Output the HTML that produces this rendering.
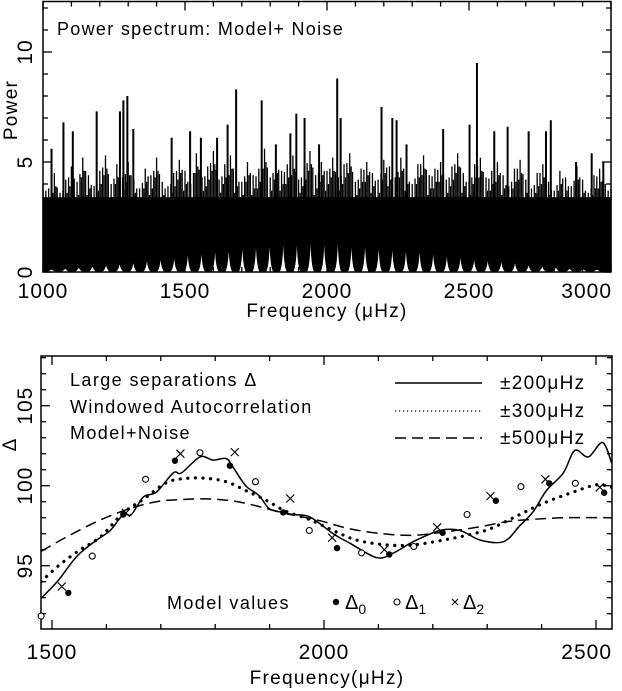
<!DOCTYPE html>
<html><head><meta charset="utf-8"><style>
html,body{margin:0;padding:0;background:#fff;}
svg{display:block;font-family:"Liberation Sans",sans-serif;}
</style></head><body>
<svg id="c" width="622" height="691" viewBox="0 0 622 691" xmlns="http://www.w3.org/2000/svg"></svg>
<script>
// ---- Top panel data ----
const modeFreqs=[1030,1078,1126,1174,1222,1270,1318,1366,1414,1462,1510,1558,1606,1654,1702,1750,1798,1846,1894,1942,1990,2038,2086,2134,2182,2230,2278,2326,2374,2422,2470,2518,2566,2614,2662,2710,2758,2806,2854,2902,2950];
const modeHeights=[0.1,0.15,0.2,0.25,0.3,0.35,0.4,0.5,0.55,0.6,0.75,0.8,0.9,0.95,1.05,1.1,1.15,1.2,1.2,1.25,1.2,1.25,1.1,1.15,1.05,1.0,0.95,0.9,0.8,0.7,0.65,0.55,0.5,0.45,0.4,0.3,0.25,0.2,0.15,0.12,0.1];
const spikeFreqs=[1030,1072,1105,1189,1271,1283,1297,1318,1453,1518,1556,1613,1650,1680,1770,1820,1871,1892,1921,1972,2036,2048,2192,2230,2245,2280,2409,2502,2528,2589,2636,2710,2771,2788,2877,2932,2973];
const spikePowers=[5.6,6.8,6.4,7.3,7.3,7.8,8.0,6.5,6.1,6.4,6.1,6.1,6.7,8.3,7.8,5.8,6.3,7.2,7.0,5.8,8.8,7.0,7.5,7.0,6.9,5.8,6.5,6.7,9.5,6.4,6.6,6.4,6.4,6.9,5.0,5.4,5.0];
const noiseLevels=[4.0,3.8,4.5,3.6,4.2,4.8,4.1,5.2,4.4,3.9,4.6,5.3,4.0,4.9,4.3,5.0,4.2,3.8,4.7,4.4,5.2,4.1,3.9,4.5,5.1,4.6,4.0,5.4,4.3,4.8,5.5,4.2,4.9,5.3,4.5,4.1,5.0,4.4,4.7,5.6,4.3,5.1,4.6,4.9,5.3,4.2,4.8,5.5,4.4,5.0,4.6,5.2,4.3,4.9,5.4,4.1,4.7,5.0,4.5,4.2,5.1,4.8,4.3,5.2,4.6,4.0,4.9,5.3,4.4,4.7,5.0,4.2,4.8,5.4,4.5,4.1,4.9,5.2,4.3,4.6,5.0,4.4,3.9,4.7,5.1,4.2,3.8,4.5,4.9,4.1,3.7,4.6,4.3,3.9,4.8,4.2,3.6,4.4,4.7,4.0,3.8];
const topXTicks=[1000,1500,2000,2500,3000];
const topYTicks=[0,5,10];
// ---- Bottom panel data ----
const s200F=[1480,1512,1546,1582,1607,1631,1646,1668,1692,1723,1738,1772,1796,1820,1832,1856,1880,1898,1914,1943,1974,2017,2048,2097,2128,2164,2213,2250,2287,2330,2360,2385,2409,2440,2461,2486,2512,2529];
const s200V=[92.96,94.1,95.6,96.6,97.2,98.2,98.2,99.3,99.6,100.8,100.8,101.8,101.6,101.7,101.2,100.0,99.4,98.6,98.4,98.2,98.05,97.0,96.4,95.5,95.8,96.5,97.2,97.2,96.6,96.5,97.5,98.4,99.7,100.8,102.2,101.8,102.7,101.4];
const s300F=[1480,1512,1552,1589,1631,1668,1711,1748,1784,1820,1856,1893,1930,1972,2017,2060,2115,2164,2219,2262,2305,2354,2403,2458,2501,2529];
const s300V=[94.0,95.0,96.0,96.8,98.3,99.15,100.2,100.46,100.46,100.25,99.7,99.1,98.4,97.9,97.2,96.6,96.3,96.3,96.6,96.9,97.3,98.1,98.9,99.6,100.05,99.9];
const s500F=[1480,1527,1582,1637,1692,1748,1803,1856,1924,1987,2048,2109,2164,2219,2281,2336,2385,2446,2529];
const s500V=[95.9,96.8,97.75,98.5,99.0,99.15,99.15,98.9,98.3,97.86,97.3,97.0,96.9,97.1,97.4,97.75,97.9,98.0,98.0];
const d0F=[1530,1631,1726,1827,1925,2024,2120,2218,2316,2414,2515];
const d0V=[93.3,98.2,101.56,101.25,98.33,96.1,95.7,97.06,99.06,100.15,99.56];
const d1F=[1480,1574,1672,1772,1874,1973,2069,2165,2263,2362,2462];
const d1V=[91.85,95.6,100.4,102.06,100.25,97.2,95.8,96.2,98.2,99.94,100.15];
const d2F=[1518,1636,1736,1836,1938,2015,2111,2208,2306,2407,2507];
const d2V=[93.7,98.3,102.0,102.1,99.2,96.75,96.0,97.4,99.35,100.4,99.9];
const botXTicks=[1500,2000,2500];
const botYTicks=[95,100,105];

const NS='http://www.w3.org/2000/svg';
const svg=document.getElementById('c');
function mk(tag,attrs,parent){const e=document.createElementNS(NS,tag);for(const k in attrs)e.setAttribute(k,attrs[k]);(parent||svg).appendChild(e);return e;}

// ===== TOP =====
const T={x0:43,x1:611,y0:272,y1:1.5};
const tx=f=>T.x0+(f-1000)*(T.x1-T.x0)/2000;
const ty=p=>T.y0-p*22;
const gTop=mk('g',{});


const base=mk('rect',{x:T.x0,y:ty(3.4),width:T.x1-T.x0,height:T.y0-ty(3.4),fill:'#000'},gTop);


noiseLevels.forEach((v,i)=>{const f=1000+i*20;
 const nxt=i<noiseLevels.length-1?noiseLevels[i+1]:v;
 [[0,v],[5,v-0.6],[10,(v+nxt)/2-0.2],[15,nxt-0.9]].forEach(([df,h])=>{
  if(f+df>3000)return;
  const l=mk('line',{x1:tx(f+df),x2:tx(f+df),y1:T.y0,y2:ty(h),stroke:'#000','stroke-width':1.3},gTop);
  
  
 });
});
spikeFreqs.forEach((f,i)=>{const l=mk('line',{x1:tx(f),x2:tx(f),y1:T.y0,y2:ty(spikePowers[i]),stroke:'#000','stroke-width':2},gTop);
 
 });
modeFreqs.forEach((f,i)=>{const x=tx(f),h=modeHeights[i];
 const p=mk('path',{d:`M${x-4},${T.y0} Q${x-1},${T.y0-2} ${x},${ty(h)} Q${x+1},${T.y0-2} ${x+4},${T.y0} Z`,fill:'#fff'},gTop);
 
 });
const tt=mk('text',{x:57,y:35,'font-size':18,'letter-spacing':1.3},gTop);tt.textContent='Power spectrum: Model+ Noise';


mk('rect',{x:T.x0,y:T.y1,width:T.x1-T.x0,height:T.y0-T.y1,fill:'none',stroke:'#000','stroke-width':1.5},gTop);
for(let f=1000;f<=3000;f+=100){const L=f%500===0?9:5;
 mk('line',{x1:tx(f),x2:tx(f),y1:T.y0,y2:T.y0-L,stroke:'#000','stroke-width':1.3},gTop);
 mk('line',{x1:tx(f),x2:tx(f),y1:T.y1,y2:T.y1+L,stroke:'#000','stroke-width':1.3},gTop);}
for(let p=0;p<=12;p++){const L=p%5===0?9:5;
 mk('line',{x1:T.x0,x2:T.x0+L,y1:ty(p),y2:ty(p),stroke:'#000','stroke-width':1.3},gTop);
 mk('line',{x1:T.x1,x2:T.x1-L,y1:ty(p),y2:ty(p),stroke:'#000','stroke-width':1.3},gTop);}
topXTicks.forEach((v,i)=>{const last=i===topXTicks.length-1;
 const t=mk('text',{x:last?612:tx(v),y:298,'font-size':21,'letter-spacing':1,'text-anchor':last?'end':'middle'},gTop);t.textContent=v;
 
 });
topYTicks.forEach(v=>{const t=mk('text',{transform:`translate(32,${ty(v)}) rotate(-90)`,'font-size':21,'letter-spacing':1,'text-anchor':'middle'},gTop);t.textContent=v;
 
 });
const xl=mk('text',{x:327,y:317,'font-size':19,'letter-spacing':1.3,'text-anchor':'middle'},gTop);xl.textContent='Frequency (μHz)';


const yl=mk('text',{transform:'translate(17,110) rotate(-90)','font-size':19,'letter-spacing':1.3,'text-anchor':'middle'},gTop);yl.textContent='Power';



// ===== BOTTOM =====
const B={x0:41,x1:612,y0:629,y1:356};
const bx=f=>52+(f-1500)*0.544;
const by=v=>485.7-(v-100)*16;
const gB=mk('g',{});


mk('rect',{x:B.x0,y:B.y1,width:B.x1-B.x0,height:B.y0-B.y1,fill:'none',stroke:'#000','stroke-width':1.5},gB);
for(let f=1500;f<=2500;f+=100){const L=f%500===0?9:5;
 mk('line',{x1:bx(f),x2:bx(f),y1:B.y0,y2:B.y0-L,stroke:'#000','stroke-width':1.3},gB);
 mk('line',{x1:bx(f),x2:bx(f),y1:B.y1,y2:B.y1+L,stroke:'#000','stroke-width':1.3},gB);}
for(let v=92;v<=108;v++){const L=v%5===0?9:5;
 mk('line',{x1:B.x0,x2:B.x0+L,y1:by(v),y2:by(v),stroke:'#000','stroke-width':1.3},gB);
 mk('line',{x1:B.x1,x2:B.x1-L,y1:by(v),y2:by(v),stroke:'#000','stroke-width':1.3},gB);}
botXTicks.forEach((v,i)=>{const last=i===botXTicks.length-1;
 const t=mk('text',{x:last?612:bx(v),y:659,'font-size':21,'letter-spacing':1,'text-anchor':last?'end':'middle'},gB);t.textContent=v;
 
 });
botYTicks.forEach(v=>{const t=mk('text',{transform:`translate(32,${by(v)}) rotate(-90)`,'font-size':21,'letter-spacing':1,'text-anchor':'middle'},gB);t.textContent=v;
 
 });
const bxl=mk('text',{x:327,y:684,'font-size':19,'letter-spacing':1.3,'text-anchor':'middle'},gB);bxl.textContent='Frequency(μHz)';


const byl=mk('text',{transform:'translate(16,445) rotate(-90)','font-size':19,'text-anchor':'middle'},gB);byl.textContent='Δ';



function smoothPath(F,V){const pts=F.map((f,i)=>[bx(f),by(V[i])]);
 let d=`M${pts[0][0]},${pts[0][1]}`;
 for(let i=0;i<pts.length-1;i++){const p0=pts[i-1]||pts[i],p1=pts[i],p2=pts[i+1],p3=pts[i+2]||p2;
  d+=` C${p1[0]+(p2[0]-p0[0])/6},${p1[1]+(p2[1]-p0[1])/6} ${p2[0]-(p3[0]-p1[0])/6},${p2[1]-(p3[1]-p1[1])/6} ${p2[0]},${p2[1]}`;}
 return d;}
const cp=mk('clipPath',{id:'bc'},gB);
mk('rect',{x:B.x0,y:B.y1,width:B.x1-B.x0,height:B.y0-B.y1},cp);
const c500=mk('path',{d:smoothPath(s500F,s500V),fill:'none',stroke:'#000','stroke-width':1.5,'stroke-dasharray':'11,6','clip-path':'url(#bc)'},gB);


const c300=mk('path',{d:smoothPath(s300F,s300V),fill:'none',stroke:'#000','stroke-width':3.2,'stroke-dasharray':'0.1,7.5','stroke-linecap':'round','clip-path':'url(#bc)'},gB);


const c200=mk('path',{d:smoothPath(s200F,s200V),fill:'none',stroke:'#000','stroke-width':1.5,'clip-path':'url(#bc)'},gB);


d0F.forEach((f,i)=>{const c=mk('circle',{cx:bx(f),cy:by(d0V[i]),r:3.2,fill:'#000'},gB);
 
 });
d1F.forEach((f,i)=>{const c=mk('circle',{cx:bx(f),cy:by(d1V[i]),r:3,fill:'#fff',stroke:'#000','stroke-width':1.1},gB);
 
 });
d2F.forEach((f,i)=>{const x=bx(f),y=by(d2V[i]);
 const c=mk('path',{d:`M${x-4},${y-4}L${x+4},${y+4}M${x-4},${y+4}L${x+4},${y-4}`,stroke:'#000','stroke-width':1.1},gB);
 
 });
[['Large separations  Δ',386],['Windowed Autocorrelation',413],['Model+Noise',439]].forEach(([s,y])=>{
 const t=mk('text',{x:70,y:y,'font-size':18,'letter-spacing':1.4},gB);t.textContent=s;
 
 });
const leg=[['±200μHz',383,{}],['±300μHz',411,{'stroke-dasharray':'1.2,2.8','stroke-width':1.3}],['±500μHz',438,{'stroke-dasharray':'11,6'}]];
leg.forEach(([s,y,st])=>{
 const l=mk('line',Object.assign({x1:395,x2:482,y1:y,y2:y,stroke:'#000','stroke-width':1.5},st),gB);
 
 
 const t=mk('text',{x:500,y:y+6,'font-size':19,'letter-spacing':1.3},gB);t.textContent=s;
 
 });
const mv=mk('text',{x:167,y:609,'font-size':18,'letter-spacing':1.4},gB);mv.textContent='Model values';


const k0=mk('circle',{cx:336,cy:602,r:3.2,fill:'#000'},gB);


const k1=mk('circle',{cx:397,cy:602,r:3,fill:'none',stroke:'#000','stroke-width':1.1},gB);


const k2=mk('path',{d:'M452,599L458,605M452,605L458,599',stroke:'#000','stroke-width':1.1},gB);


[['0',345],['1',405],['2',463]].forEach(([s,x])=>{
 const t=mk('text',{x:x,y:609,'font-size':20},gB);t.textContent='Δ';
 const sb=mk('tspan',{dy:5,'font-size':14},t);sb.textContent=s;
 
 });
</script>
</body></html>
